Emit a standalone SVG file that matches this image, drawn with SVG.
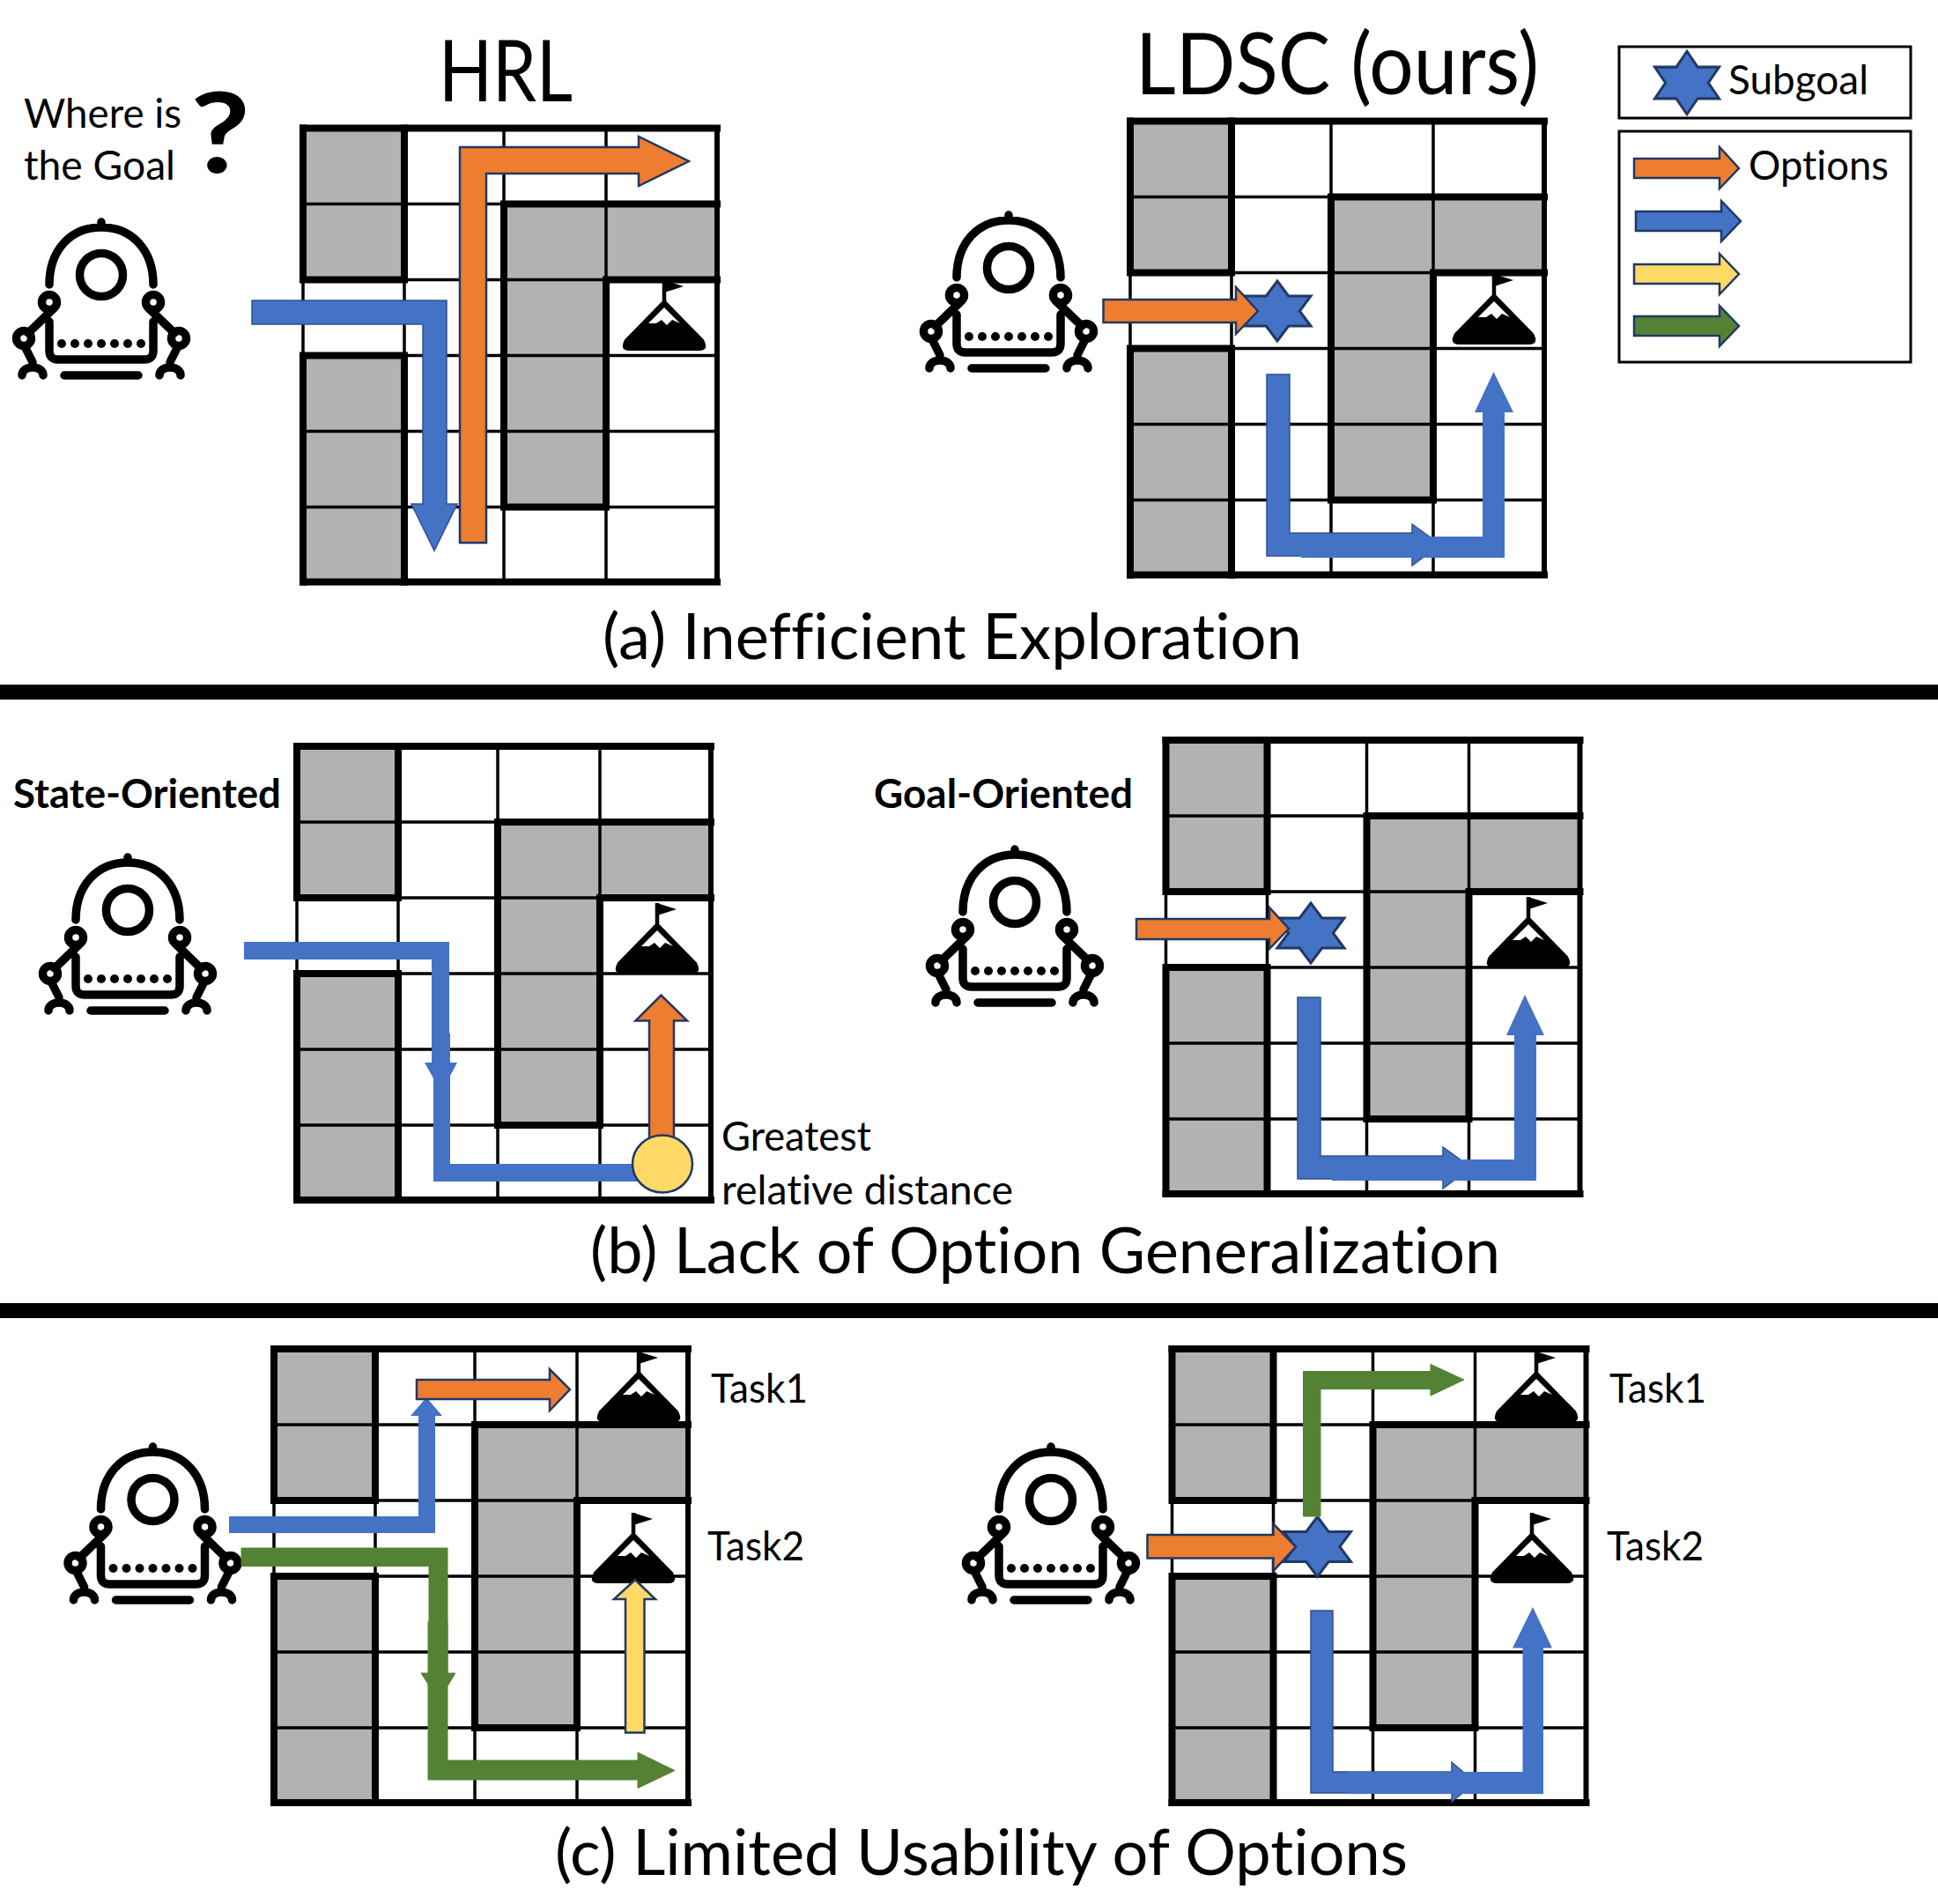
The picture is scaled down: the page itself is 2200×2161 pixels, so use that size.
<svg xmlns="http://www.w3.org/2000/svg" xmlns:xlink="http://www.w3.org/1999/xlink" width="2200" height="2161" viewBox="0 0 2200 2161">
<style>
text{font-family:"Lato","Liberation Sans",sans-serif;fill:#000;font-variant-ligatures:none;}
.cap{font-size:72px;}
.title{font-size:96px;}
.lab{font-size:46px;}
.b{font-weight:700;}
.wall{fill:none;stroke:#000;stroke-width:8;stroke-linecap:square;}
.thin{fill:none;stroke:#000;stroke-width:3.5;}
.grey{fill:#b2b2b2;}
.or{fill:#ed7d31;stroke:#203864;stroke-width:2.5;}
.bl{fill:#4472c4;stroke:#2f528f;stroke-width:1.5;}
.bln{fill:#4472c4;}
.ye{fill:#ffd966;stroke:#203864;stroke-width:2.5;}
.gr{fill:#548235;stroke:#548235;stroke-width:1;}
.grd{fill:#548235;stroke:#203864;stroke-width:2.5;}
.blegend{fill:#4472c4;stroke:#203864;stroke-width:2.5;}
.star{fill:#4472c4;stroke:#203864;stroke-width:3;}
.box{fill:#fff;stroke:#000;stroke-width:3;}
.r{fill:none;stroke:#000;stroke-width:9.5;stroke-linecap:round;}
</style>
<defs>
<g id="grid">
<rect width="470" height="515" fill="#fff"/>
<path class="grey" d="M0,0H115V172H0ZM0,258H115V515H0ZM228,86H470V172H344V430H228Z"/>
<path class="thin" d="M115,0V515M228,0V515M344,0V515M0,86H470M0,172H470M0,258H470M0,344H470M0,430H470M0,172V258"/>
<path class="wall" d="M115,0V172M0,172H115M0,0V172M0,258H115M0,258V515M115,258V515M228,86V430M228,86H470M228,430H344M344,172V430M344,172H470"/>
<path class="wall" d="M0,0H470M0,515H470" stroke-width="9"/>
<path class="wall" d="M470,0V515" style="stroke-width:6"/>
</g>
<g id="robot">
<path class="r" d="M-59,11C-59,-28 -35,-54 0,-54C35,-54 59,-28 59,11M0,-54V-60"/>
<circle class="r" r="24.5"/>
<circle class="r" cx="-59" cy="31" r="8.5"/><circle class="r" cx="59" cy="31" r="8.5"/>
<circle class="r" cx="-88" cy="72" r="8.5"/><circle class="r" cx="88" cy="72" r="8.5"/>
<path class="r" d="M-54,38L-83,66M54,38L83,66M-87,81L-78,99M87,81L78,99M-90,114C-90,102 -66,102 -66,114M90,114C90,102 66,102 66,114M-59,53V86Q-59,96 -49,96H49Q59,96 59,86V53M-42,114H42"/>
<g><circle cx="-45" cy="78" r="5"/><circle cx="-30" cy="78" r="5"/><circle cx="-15" cy="78" r="5"/><circle cy="78" r="5"/><circle cx="15" cy="78" r="5"/><circle cx="30" cy="78" r="5"/><circle cx="45" cy="78" r="5"/></g>
</g>
<g id="mount">
<path d="M0,0V24" stroke="#000" stroke-width="4.5"/>
<path d="M0,0L22,7L0,14Z"/>
<path d="M0,23L44,68Q50,79 40,79H-40Q-50,79 -44,68Z" stroke="#000" stroke-width="2" stroke-linejoin="round"/>
<path d="M0,31L18,49L9,45L3,51L-3,45L-9,49L-18,49Z" fill="#fff"/>
</g>
<polygon id="hex" class="star" points="0,-34 12.7,-17 38,-17 25.3,0 38,17 12.7,17 0,34 -12.7,17 -38,17 -25.3,0 -38,-17 -12.7,-17"/>
</defs>

<rect width="2200" height="2161" fill="#fff"/>

<g id="sep-1"><rect y="777" width="2200" height="17"/></g>
<g id="sep-2"><rect y="1479" width="2200" height="17"/></g>

<g id="title-hrl"><text class="title" x="498" y="115" textLength="152" lengthAdjust="spacingAndGlyphs">HRL</text></g>
<g id="title-ldsc"><text class="title" x="1289" y="107" textLength="458" lengthAdjust="spacingAndGlyphs">LDSC (ours)</text></g>

<g id="where-goal">
<text class="lab" x="27" y="145" textLength="179" lengthAdjust="spacingAndGlyphs">Where is</text>
<text class="lab" x="27" y="204" textLength="172" lengthAdjust="spacingAndGlyphs">the Goal</text>
<text class="b" x="216" y="196" font-size="126" textLength="68" lengthAdjust="spacingAndGlyphs">?</text>
</g>

<g id="grid-hrl"><use href="#grid" x="344" y="145.5"/><use href="#mount" x="754" y="318"/></g>
<g id="grid-ldsc"><use href="#grid" x="1283" y="137.5"/><use href="#mount" x="1696" y="311"/></g>
<g id="grid-state"><use href="#grid" x="337" y="847"/><use href="#mount" x="746" y="1025"/></g>
<g id="grid-goal"><use href="#grid" x="1323.5" y="840"/><use href="#mount" x="1735" y="1018"/></g>
<g id="grid-task-a"><use href="#grid" x="311" y="1531"/><use href="#mount" x="725" y="1534"/><use href="#mount" x="719" y="1717"/></g>
<g id="grid-task-b"><use href="#grid" x="1330.5" y="1531"/><use href="#mount" x="1744" y="1534"/><use href="#mount" x="1739" y="1717"/></g>

<g id="robot-1"><use href="#robot" x="115" y="312"/></g>
<g id="robot-2"><use href="#robot" x="1145" y="304"/></g>
<g id="robot-3"><use href="#robot" x="145" y="1033"/></g>
<g id="robot-4"><use href="#robot" x="1152" y="1024"/></g>
<g id="robot-5"><use href="#robot" x="173.5" y="1702"/></g>
<g id="robot-6"><use href="#robot" x="1193" y="1702"/></g>

<g id="star-ldsc"><use href="#hex" x="1450" y="353"/></g>
<g id="star-goal"><use href="#hex" x="1488" y="1059"/></g>
<g id="star-task"><use href="#hex" x="1495.5" y="1755.5"/></g>

<g id="legend-subgoal">
<rect class="box" x="1838" y="53" width="331" height="81"/>
<use href="#hex" transform="translate(1915,94) scale(.96,1.05)"/>
<text class="lab" x="1962" y="107" textLength="159" lengthAdjust="spacingAndGlyphs">Subgoal</text>
</g>
<g id="legend-options">
<rect class="box" x="1838" y="149" width="331" height="262"/>
<path class="or" d="M1855,180H1952V167L1974,191L1952,214V202H1855Z"/>
<path class="blegend" d="M1857,240H1954V228L1976,251L1954,274V262H1857Z"/>
<path class="ye" d="M1855,300H1952V288L1974,311L1952,334V322H1855Z"/>
<path class="grd" d="M1855,359H1952V347L1974,370L1952,393V381H1855Z"/>
<text class="lab" x="1985" y="204" textLength="159" lengthAdjust="spacingAndGlyphs">Options</text>
</g>

<g id="connectors">
<path class="bl" d="M286,341H507V572H519L493,625L467,572H480V368H286Z"/>
<path class="or" d="M522,616V167H725V155L782,183L725,211V197H552V616Z"/>

<path class="or" d="M1252.5,340H1403V326L1428,353L1403,379V366H1252.5Z"/>
<path class="bl" d="M1438,425H1464V605H1603V595L1635,618L1603,642V631H1438Z"/>
<path class="bln" d="M1477,609H1683V468H1674L1695.5,422L1718,468H1708V633H1477Z"/>

<path class="bln" d="M277,1069H510V1206H519L501,1240L482,1206H490V1089H277Z"/>
<path class="bln" d="M492,1173H511V1321H730V1341H492Z"/>
<path class="or" d="M737,1295V1158.5H721.5L750.5,1129.5L780,1158.5H765V1295Z"/>

<path class="or" d="M1290,1043H1441V1030L1463,1054L1441,1077V1066H1290Z"/>
<path class="bl" d="M1473,1132H1499V1312H1638V1302L1670,1325L1638,1349V1338H1473Z"/>
<path class="bln" d="M1512,1316H1719V1175H1710L1731,1129L1753,1175H1744V1340H1512Z"/>

<path class="bln" d="M260,1721H475V1607H466L484,1586L502,1607H494V1740H260Z"/>
<path class="or" d="M473,1566H624V1554L647,1577L624,1601V1588H473Z"/>
<path class="gr" d="M274,1757H508V1899H517L498,1930L478,1899H487V1777.5H274Z"/>
<path class="gr" d="M486,1840.5H508V1998H724V1989L766,2009.5L724,2029.5V2020H486Z"/>
<path class="ye" d="M710,1966.5V1815H697L721,1793L744,1815H731.5V1966.5Z"/>

<path class="gr" d="M1479.5,1721V1556.5H1624V1548.5L1662,1566L1624,1584V1576.5H1499V1721Z"/>
<path class="or" d="M1302.5,1742H1445.5V1729.5L1471,1755.5L1445.5,1783V1768.5H1302.5Z"/>
<path class="bl" d="M1488,1828H1513V2011H1648V2000L1675,2023L1648,2045V2035H1488Z"/>
<path class="bln" d="M1529.5,2011H1728.5V1870.5H1717L1740,1824L1762,1870.5H1752V2036H1529.5Z"/>
</g>

<g id="distance-point"><ellipse cx="752" cy="1321" rx="34" ry="32.5" fill="#ffd966" stroke="#203864" stroke-width="2.5"/></g>

<g id="labels">
<text class="lab b" x="15" y="917" textLength="304" lengthAdjust="spacingAndGlyphs">State-Oriented</text>
<text class="lab b" x="992" y="917" textLength="294" lengthAdjust="spacingAndGlyphs">Goal-Oriented</text>
<text class="lab" x="819" y="1306" textLength="170" lengthAdjust="spacingAndGlyphs">Greatest</text>
<text class="lab" x="819" y="1367" textLength="331" lengthAdjust="spacingAndGlyphs">relative distance</text>
<text class="lab" x="807" y="1592" textLength="110" lengthAdjust="spacingAndGlyphs">Task1</text>
<text class="lab" x="803" y="1771" textLength="110" lengthAdjust="spacingAndGlyphs">Task2</text>
<text class="lab" x="1827" y="1592" textLength="110" lengthAdjust="spacingAndGlyphs">Task1</text>
<text class="lab" x="1824" y="1771" textLength="110" lengthAdjust="spacingAndGlyphs">Task2</text>
<text class="cap" x="684" y="748" textLength="794" lengthAdjust="spacingAndGlyphs">(a) Inefficient Exploration</text>
<text class="cap" x="670" y="1445" textLength="1033" lengthAdjust="spacingAndGlyphs">(b) Lack of Option Generalization</text>
<text class="cap" x="630" y="2128" textLength="968" lengthAdjust="spacingAndGlyphs">(c) Limited Usability of Options</text>
</g>
</svg>
